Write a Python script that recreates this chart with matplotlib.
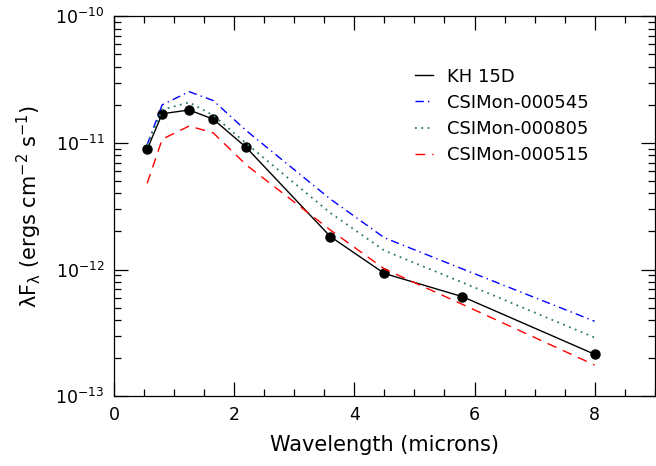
import numpy as np
import matplotlib
matplotlib.use("Agg")
import matplotlib.pyplot as plt
from matplotlib.lines import Line2D
from matplotlib.ticker import MultipleLocator, LogLocator, NullFormatter

# wavelengths (microns) of the photometric bands
wave = [0.55, 0.80, 1.25, 1.65, 2.20, 3.60, 4.50, 5.80, 8.00]

# lambda F_lambda (ergs cm^-2 s^-1)
kh15d  = [8.9e-12, 1.70e-11, 1.82e-11, 1.54e-11, 9.2e-12, 1.82e-12, 9.3e-13, 6.1e-13, 2.14e-13]
c545   = [9.7e-12, 2.00e-11, 2.54e-11, 2.16e-11, 1.25e-11, 3.6e-12, 1.78e-12, 1.01e-12, 3.9e-13]
c805   = [9.6e-12, 1.83e-11, 2.09e-11, 1.65e-11, 9.9e-12, 2.8e-12, 1.41e-12, 7.9e-13, 2.9e-13]
c515   = [4.8e-12, 1.07e-11, 1.36e-11, 1.20e-11, 6.7e-12, 2.05e-12, 1.01e-12, 5.3e-13, 1.76e-13]

names = ["KH 15D", "CSIMon-000545", "CSIMon-000805", "CSIMon-000515"]

plt.rcParams["font.family"] = ["DejaVu Sans"]
plt.rcParams["mathtext.default"] = "regular"

fig = plt.figure(figsize=(6.56, 4.66), dpi=100)
ax = fig.add_axes([0.174, 0.150, 0.824, 0.815])

styles = [
    dict(color="black", lw=1.0),
    dict(color="#0000ff", lw=1.0, ls=(0, (6, 3, 1, 3))),
    dict(color="#2a7a6a", lw=1.3, ls=(0, (1, 2.5))),
    dict(color="#ff0000", lw=1.0, ls=(0, (7, 5))),
]

ax.plot(wave, kh15d, marker="o", ms=6.5, **styles[0])
ax.plot(wave, c545, **styles[1])
ax.plot(wave, c805, **styles[2])
ax.plot(wave, c515, **styles[3])

ax.set_yscale("log")
ax.set_xlim(0, 9)
ax.set_ylim(1e-13, 1e-10)

ax.xaxis.set_major_locator(MultipleLocator(2))
ax.xaxis.set_minor_locator(MultipleLocator(0.5))
ax.yaxis.set_major_locator(LogLocator(base=10))
ax.yaxis.set_minor_locator(LogLocator(base=10, subs=np.arange(2, 10)))
ax.yaxis.set_minor_formatter(NullFormatter())

ax.tick_params(which="both", direction="in", top=True, right=True,
               labelsize=12.5, width=0.9)
ax.tick_params(which="major", length=10, pad=7)
ax.tick_params(which="minor", length=5)
for s in ax.spines.values():
    s.set_linewidth(0.9)

ax.set_xlabel("Wavelength (microns)", fontsize=15, labelpad=8)
ax.set_ylabel(r"$\lambda F_\lambda$ (ergs cm$^{-2}$ s$^{-1}$)", fontsize=15, labelpad=8)

handles = [Line2D([], [], **st) for st in styles]
ax.legend(handles, names, loc="upper left", bbox_to_anchor=(0.633, 0.855),
          bbox_transform=fig.transFigure, frameon=False, fontsize=13,
          handlelength=1.0, handletextpad=0.75, labelspacing=0.45,
          borderpad=0, borderaxespad=0)

fig.savefig("out.png", dpi=100)
